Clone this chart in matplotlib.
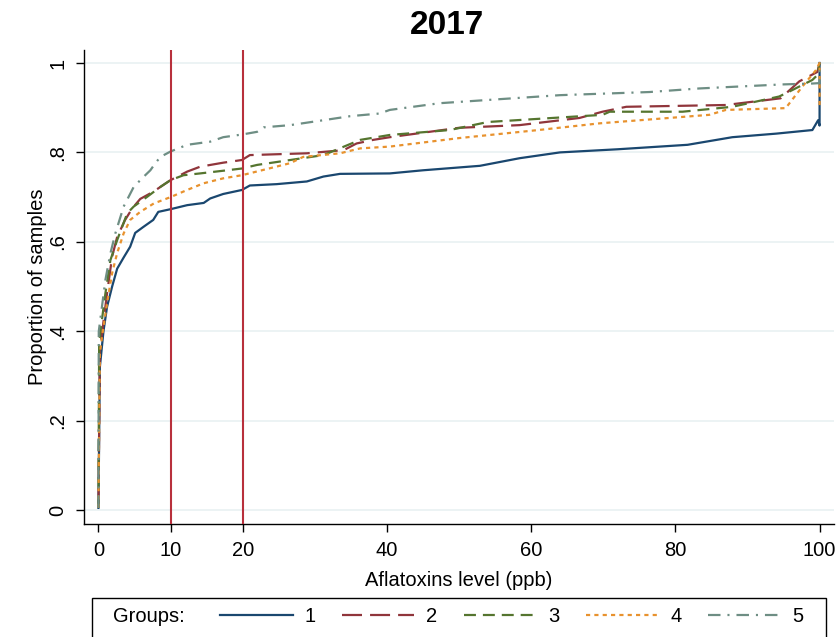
import matplotlib
matplotlib.use("Agg")
from matplotlib import pyplot as plt
from matplotlib.patches import Rectangle

plt.rcParams['font.family'] = ['Liberation Sans', 'DejaVu Sans']
plt.rcParams['lines.scale_dashes'] = False

# cumulative proportion curves, one per group
x1 = [0, 0.2, 0.7, 1.2, 1.9, 2.6, 3.5, 4.4, 5.1, 6.2, 7.6, 8.3, 10, 12.3, 14.6, 15.5, 17.3,
      19.9, 21, 24.7, 28.9, 31.2, 33.5, 40.4, 45, 52.9, 58.4, 64, 72, 81.7, 87.9, 94, 99,
      99.8, 100, 100]
y1 = [0.005, 0.32, 0.40, 0.455, 0.50, 0.54, 0.565, 0.589, 0.62, 0.633, 0.649, 0.667, 0.673,
      0.682, 0.687, 0.697, 0.707, 0.716, 0.726, 0.729, 0.735, 0.746, 0.752, 0.753, 0.76,
      0.77, 0.787, 0.80, 0.807, 0.817, 0.834, 0.842, 0.85, 0.872, 0.86, 1.0]

x2 = [0, 0.2, 0.5, 1.2, 1.9, 2.6, 3.7, 4.7, 5.8, 7.6, 10, 12.3, 14.1, 17.3, 19.9, 21, 28.9,
      34, 35.8, 38.1, 40.4, 50, 58.4, 66.7, 69.9, 73.2, 87, 94.6, 97.2, 99.7, 100]
y2 = [0.005, 0.36, 0.396, 0.485, 0.567, 0.611, 0.649, 0.675, 0.696, 0.712, 0.738, 0.757,
      0.768, 0.777, 0.783, 0.794, 0.798, 0.805, 0.82, 0.828, 0.834, 0.855, 0.861, 0.877,
      0.891, 0.902, 0.906, 0.921, 0.959, 0.98, 1.0]

x3 = [0, 0.1, 0.28, 0.97, 1.66, 2.6, 4.0, 4.9, 6.7, 8.6, 10, 11.8, 14.1, 17.3, 19.9, 22,
      26.6, 31.2, 36.3, 40.4, 48.7, 54, 69.9, 70.9, 81, 87.9, 94.4, 95.8, 99, 99.7, 100]
y3 = [0.005, 0.37, 0.40, 0.485, 0.559, 0.604, 0.664, 0.679, 0.70, 0.723, 0.738, 0.749,
      0.753, 0.759, 0.764, 0.772, 0.783, 0.794, 0.828, 0.839, 0.85, 0.868, 0.884, 0.891,
      0.891, 0.902, 0.925, 0.936, 0.962, 0.973, 1.0]

x4 = [0, 0.2, 0.5, 1.2, 1.9, 2.6, 3.5, 4.4, 5.8, 7.7, 10, 12.3, 14.6, 17.3, 19.9, 22.9,
      26.6, 28.4, 33.5, 36.3, 40.4, 50, 61, 69.5, 84.7, 87, 95.3, 97.6, 99.5, 100, 100]
y4 = [0.005, 0.35, 0.388, 0.463, 0.53, 0.575, 0.619, 0.649, 0.667, 0.686, 0.70, 0.716,
      0.731, 0.742, 0.749, 0.761, 0.776, 0.79, 0.798, 0.809, 0.813, 0.832, 0.85, 0.865,
      0.884, 0.895, 0.899, 0.947, 0.984, 1.0, 0.90]

x5 = [0, 0.05, 0.97, 1.66, 2.35, 3.5, 4.9, 6.3, 7.2, 7.9, 8.6, 10, 12.3, 15.5, 17.3, 19.9,
      22, 22.9, 26.6, 31.2, 34.9, 39, 40.4, 47.3, 55.6, 64, 76.4, 83.3, 94.8, 99, 100, 100]
y5 = [0.005, 0.40, 0.515, 0.574, 0.619, 0.679, 0.723, 0.746, 0.76, 0.776, 0.79, 0.802,
      0.817, 0.824, 0.834, 0.84, 0.846, 0.856, 0.861, 0.872, 0.881, 0.887, 0.895, 0.91,
      0.919, 0.928, 0.935, 0.943, 0.952, 0.954, 0.955, 1.0]

groups = ['1', '2', '3', '4', '5']
colors = ['#1a476f', '#90353b', '#55752f', '#e8922e', '#6e8e84']
dashes = [None, (14.4, 5.8), (8.6, 5.0), (3.0, 3.0), (9.0, 5.0, 1.5, 5.0)]
series = [(x1, y1), (x2, y2), (x3, y3), (x4, y4), (x5, y5)]
cutoffs = [10, 20]

fig = plt.figure(figsize=(8.38, 6.37), dpi=100)
ax = fig.add_axes([84 / 838, 1 - 524 / 637, 750 / 838, 474 / 637])

for yv in [0, 0.2, 0.4, 0.6, 0.8, 1.0]:
    ax.axhline(yv, color='#eaf2f3', lw=1.3, zorder=0)

handles = []
for (xs, ys), c, d, g in zip(series, colors, dashes, groups):
    ln, = ax.plot(xs, ys, color=c, lw=1.6, zorder=2)
    if d is not None:
        ln.set_dashes(d)
    handles.append(ln)

for xc in cutoffs:
    ax.axvline(xc, color='#b8303c', lw=1.5, zorder=3)

ax.set_xlim(-2, 102)
ax.set_ylim(-0.031, 1.029)
ax.set_xticks([0, 10, 20, 40, 60, 80, 100])
ax.set_yticks([0, 0.2, 0.4, 0.6, 0.8, 1.0])
ax.set_yticklabels(['0', '.2', '.4', '.6', '.8', '1'], rotation=90, va='center')
ax.tick_params(axis='both', direction='out', length=6, width=1, labelsize=14.5, pad=6)
for s in ['top', 'right']:
    ax.spines[s].set_visible(False)
for s in ['left', 'bottom']:
    ax.spines[s].set_linewidth(1)
ax.set_xlabel('Aflatoxins level (ppb)', fontsize=14.5, labelpad=8)
ax.set_ylabel('Proportion of samples', fontsize=14.5, labelpad=1)

fig.text(447 / 838, 1 - 25 / 637, '2017', fontsize=24, fontweight='bold',
         ha='center', va='center')

# legend
fig.patches.append(Rectangle((92 / 838, -0.02), 734 / 838, 39 / 637 + 0.02,
                             transform=fig.transFigure, fill=False,
                             edgecolor='black', lw=1))
fig.text(113 / 838, 1 - 617 / 637, 'Groups:', fontsize=14.5, ha='left', va='center')
fig.legend(handles, groups, loc='center left', bbox_to_anchor=(220 / 838, 1 - 617 / 637),
           ncol=5, frameon=False, fontsize=14.5, handlelength=3.6, handletextpad=0.6,
           columnspacing=1.3, borderpad=0, borderaxespad=0)

fig.savefig('out.png', dpi=100)
